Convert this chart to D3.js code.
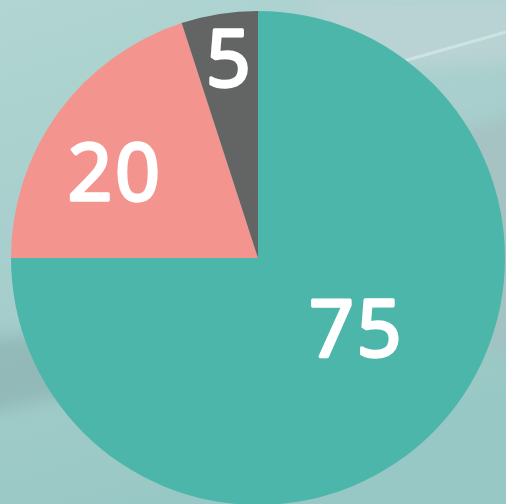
<!DOCTYPE html>
<html>
<head>
<meta charset="utf-8">
<script src="https://cdn.jsdelivr.net/npm/d3@7"></script>
<style>
  html, body { margin: 0; padding: 0; overflow: hidden; }
  #wrapper { width: 506px; height: 504px; }
</style>
</head>
<body>
<div id="wrapper"></div>
<script>
// slices, clockwise from 12 o'clock
const categories = ["A", "B", "C"];
const values = [75, 20, 5];
const sliceColors = ["#4db6aa", "#f4948f", "#626564"];

const width = 506;
const height = 504;
const cx = 258, cy = 258;
const radius = 247;

const svg = d3.select("#wrapper")
	.append("svg")
	.attr("width", width)
	.attr("height", height);

// backdrop: soft teal-grey photo-ish texture
const defs = svg.append("defs");
const bg = defs.append("linearGradient").attr("id", "bg")
	.attr("x1", 0).attr("y1", 0).attr("x2", 0.3).attr("y2", 1);
bg.append("stop").attr("offset", "0%").attr("stop-color", "#b0d5d3");
bg.append("stop").attr("offset", "45%").attr("stop-color", "#a8cfcd");
bg.append("stop").attr("offset", "100%").attr("stop-color", "#98c8c5");

const blur = defs.append("filter").attr("id", "blur")
	.attr("x", "-20%").attr("y", "-20%").attr("width", "140%").attr("height", "140%");
blur.append("feGaussianBlur").attr("stdDeviation", 8);

svg.append("rect").attr("width", width).attr("height", height).attr("fill", "url(#bg)");

const streaks = svg.append("g").attr("filter", "url(#blur)");
streaks.append("path")
	.attr("d", "M-20,340 L120,325 L70,395 L-20,415 Z")
	.attr("fill", "#8db3b1").attr("opacity", 0.75);
streaks.append("path")
	.attr("d", "M390,150 L530,110 L530,360 L430,330 Z")
	.attr("fill", "#a6bfc0").attr("opacity", 0.75);
streaks.append("path")
	.attr("d", "M300,0 L530,0 L530,60 L380,70 Z")
	.attr("fill", "#bdd3d5").attr("opacity", 0.8);
svg.append("path")
	.attr("d", "M400,62 L506,32")
	.attr("stroke", "#d6eaea").attr("stroke-width", 3).attr("opacity", 0.7);

const colScale = d3.scaleOrdinal()
	.domain(categories)
	.range(sliceColors);

const pie = d3.pie()
	.sort(null)
	.value(function(d, i) { return values[i]; });

const arc = d3.arc()
	.innerRadius(0)
	.outerRadius(radius);

const arcs = pie(categories);

const g = svg.append("g").attr("transform", `translate(${cx},${cy})`);

g.selectAll("path.slice")
	.data(arcs)
	.enter().append("path")
	.attr("class", "slice")
	.attr("d", arc)
	.attr("fill", function(d) { return colScale(d.data); });

// label placement (radius from centre, angular nudge in radians)
const labelPlace = {
	A: { r: 120, shift: -0.16 },
	B: { r: 168, shift: -0.09 },
	C: { r: 202, shift: 0.01 }
};

// regular face + white stroke ~ semibold look
g.selectAll("text.lbl")
	.data(arcs)
	.enter().append("text")
	.attr("class", "lbl")
	.attr("transform", function(d) {
		const p = labelPlace[d.data];
		const a = (d.startAngle + d.endAngle) / 2 + p.shift;
		return `translate(${p.r * Math.sin(a) + 1.5},${-p.r * Math.cos(a)})`;
	})
	.attr("text-anchor", "middle")
	.attr("dy", "0.36em")
	.attr("fill", "#ffffff")
	.attr("stroke", "#ffffff")
	.attr("stroke-width", 3.4)
	.attr("stroke-linejoin", "round")
	.style("font-family", "'Open Sans', sans-serif")
	.style("font-weight", 400)
	.style("font-size", "78px")
	.style("letter-spacing", "3px")
	.text(function(d) { return d.value; });
</script>
</body>
</html>
